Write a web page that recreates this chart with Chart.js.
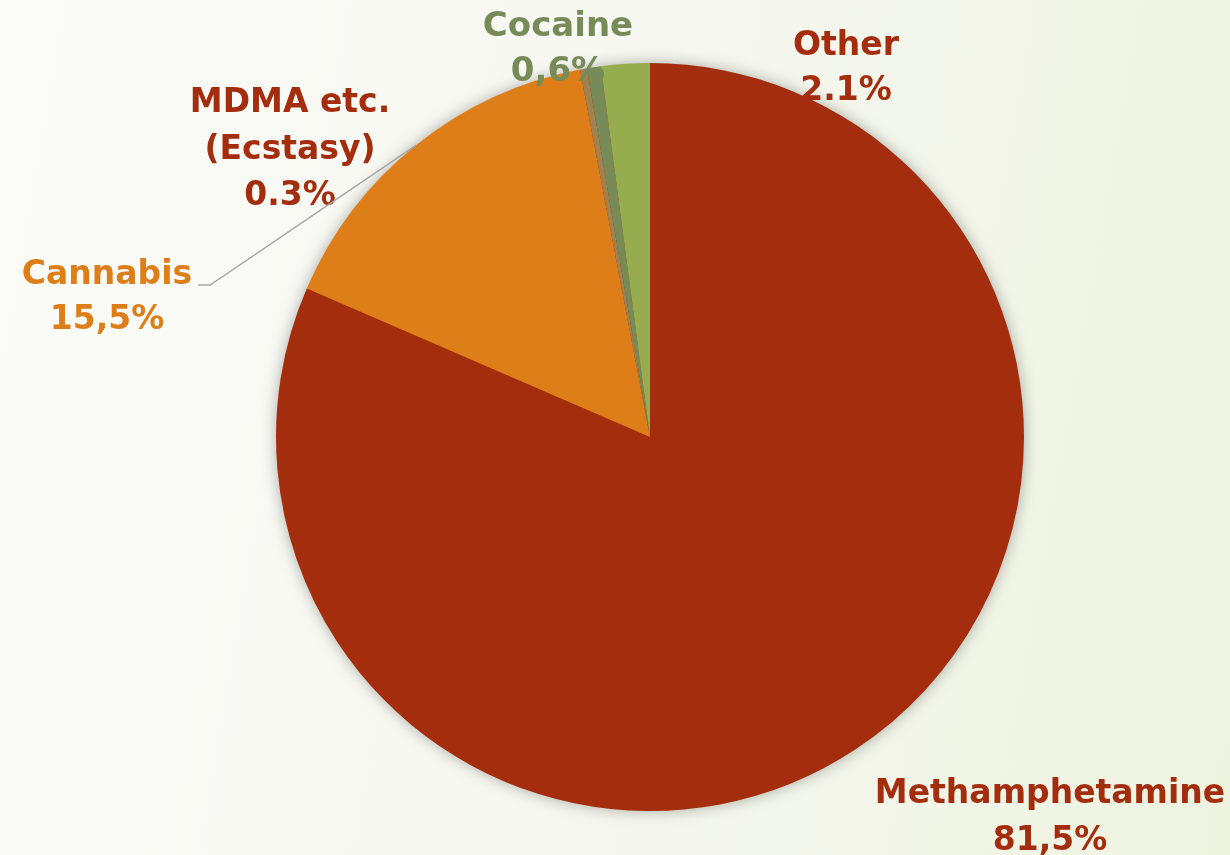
<!DOCTYPE html>
<html><head><meta charset="utf-8">
<script src="https://cdn.jsdelivr.net/npm/chart.js@4.4.1/dist/chart.umd.min.js"></script>
<style>
html,body{margin:0;padding:0;}
body{width:1230px;height:855px;background:linear-gradient(100deg,#fbfbf8 0%,#f7f8f1 45%,#eef3e0 100%);overflow:hidden;}
#wrap{position:relative;width:1230px;height:855px;}
</style></head>
<body><div id="wrap"><canvas id="c" width="1230" height="855"></canvas></div>
<script>
const categories = ["Methamphetamine", "Cannabis", "MDMA etc.\n(Ecstasy)", "Cocaine", "Other"];
const values = [81.5, 15.5, 0.3, 0.6, 2.1];
const valueLabels = ["81,5%", "15,5%", "0.3%", "0,6%", "2.1%"];
const sliceColors = ["#a42d0e", "#de7e19", "#a0824e", "#778b58", "#96ad4f"];
const textColors = ["#a42d0e", "#de7e19", "#a42d0e", "#778b58", "#a42d0e"];

// label layout: offset of first baseline relative to pie centre, line height
const labelLayout = [
  {dx: 400, dy: 366, lh: 47, size: 33},
  {dx: -543, dy: -153, lh: 45, size: 33},
  {dx: -360, dy: -325, lh: 46.5, size: 33},
  {dx: -92, dy: -401, lh: 45, size: 34},
  {dx: 196, dy: -382, lh: 45, size: 33}
];

const shadowPlugin = {
  id: 'pieShadow',
  beforeDatasetsDraw(chart) {
    const arc = chart.getDatasetMeta(0).data[0];
    const ctx = chart.ctx;
    ctx.save();
    ctx.shadowColor = 'rgba(0,0,0,0.35)';
    ctx.shadowBlur = 16;
    ctx.shadowOffsetX = 0;
    ctx.shadowOffsetY = 0;
    ctx.beginPath();
    ctx.arc(arc.x, arc.y, arc.outerRadius - 1, 0, Math.PI * 2);
    ctx.fillStyle = sliceColors[0];
    ctx.fill();
    ctx.restore();
  }
};

const labelPlugin = {
  id: 'sliceLabels',
  afterDatasetsDraw(chart) {
    const meta = chart.getDatasetMeta(0);
    const ctx = chart.ctx;
    const cx = meta.data[0].x, cy = meta.data[0].y, r = meta.data[0].outerRadius;
    ctx.save();
    ctx.textAlign = 'center';
    ctx.textBaseline = 'alphabetic';
    categories.forEach((cat, i) => {
      const L = labelLayout[i];
      const lines = cat.split('\n').concat([valueLabels[i]]);
      ctx.font = 'bold ' + L.size + 'px "DejaVu Sans", sans-serif';
      ctx.fillStyle = textColors[i];
      lines.forEach((t, k) => {
        ctx.fillText(t, cx + L.dx, cy + L.dy + k * L.lh);
      });
    });
    // leader line for Cannabis
    const a = meta.data[1];
    const mid = (a.startAngle + a.endAngle) / 2;
    const ex = cx + Math.cos(mid) * r, ey = cy + Math.sin(mid) * r;
    const L = labelLayout[1];
    ctx.font = 'bold ' + L.size + 'px "DejaVu Sans", sans-serif';
    const w = ctx.measureText(categories[1]).width;
    const lx = cx + L.dx + w / 2 + 6, ly = cy + L.dy + 1;
    ctx.strokeStyle = '#a6a6a6';
    ctx.lineWidth = 1.5;
    ctx.beginPath();
    ctx.moveTo(lx, ly);
    ctx.lineTo(lx + 12, ly);
    ctx.lineTo(ex, ey);
    ctx.stroke();
    ctx.restore();
  }
};

new Chart(document.getElementById('c'), {
  type: 'pie',
  data: {
    labels: categories,
    datasets: [{
      data: values,
      backgroundColor: sliceColors,
      borderWidth: 0
    }]
  },
  options: {
    responsive: false,
    animation: false,
    layout: {padding: {left: 70, right: 0, top: 63, bottom: 44}},
    plugins: {legend: {display: false}, tooltip: {enabled: false}}
  },
  plugins: [shadowPlugin, labelPlugin]
});
</script>
</body></html>
